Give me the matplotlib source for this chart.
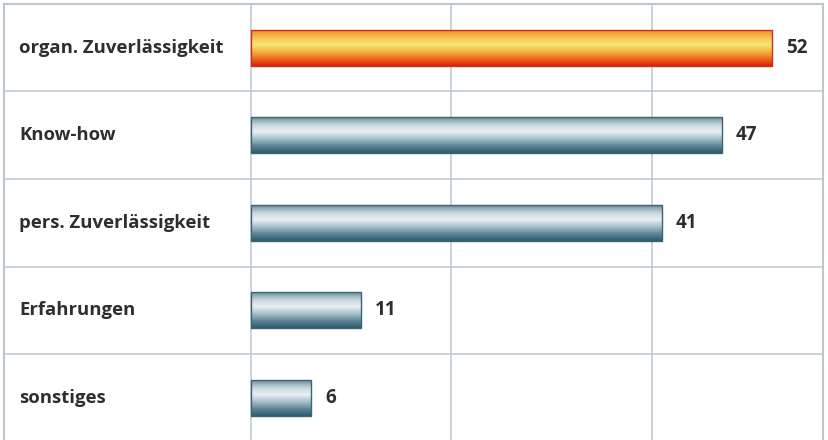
import numpy as np
import matplotlib
matplotlib.use('Agg')
import matplotlib.pyplot as plt
from matplotlib.colors import LinearSegmentedColormap

categories = ['organ. Zuverlässigkeit', 'Know-how', 'pers. Zuverlässigkeit',
              'Erfahrungen', 'sonstiges']
values = [52, 47, 41, 11, 6]
highlight = [True, False, False, False, False]
grid_ticks = [0, 20, 40]

plt.rcParams['font.family'] = ['Open Sans', 'DejaVu Sans']

# gradients from top to bottom of each bar
blue = LinearSegmentedColormap.from_list('blue', ['#6f8f9e', '#c5d5db', '#eaf1f3', '#a9c1cb', '#5f8798', '#2c5b6e'])
orange = LinearSegmentedColormap.from_list('orange', ['#ee8a2a', '#f7c350', '#f9e47a', '#f6b540', '#ee6a1c', '#dc1e10'])
grad = np.linspace(0, 1, 64).reshape(-1, 1)

fig = plt.figure(figsize=(8.29, 4.40), dpi=100)
ax = fig.add_axes([4 / 829, -1.5 / 440, 819 / 829, 437.5 / 440])

px = 10.02  # pixels per unit
ax.set_xlim(-(251 - 4) / px, (823 - 251) / px)
ax.set_ylim(len(categories) - 0.5, -0.5)

gridc = '#bcc7cd'
for t in grid_ticks:
    ax.axvline(t, color=gridc, lw=1.1, zorder=1)
for k in range(len(categories) - 1):
    ax.axhline(k + 0.5, color=gridc, lw=1.1, zorder=1)

h = 0.41
for i, (cat, v, hl) in enumerate(zip(categories, values, highlight)):
    cmap = orange if hl else blue
    ax.imshow(grad, cmap=cmap, aspect='auto', extent=(0, v, i + h / 2, i - h / 2),
              interpolation='bilinear', zorder=2)
    ax.barh(i, v, height=h, fill=False, edgecolor='#d0301a' if hl else '#3d6474',
            lw=1.0, zorder=3)
    ax.text(-(251 - 19) / px, i, cat, ha='left', va='center', fontsize=13.3,
            fontweight='bold', color='#2e2e2e')
    ax.text(v + 1.4, i, str(v), ha='left', va='center', fontsize=13.5,
            fontweight='bold', color='#2e2e2e')

ax.set_xticks([])
ax.set_yticks([])
for s in ['top', 'left', 'right']:
    ax.spines[s].set_color(gridc)
    ax.spines[s].set_linewidth(1.5)
ax.spines['bottom'].set_visible(False)

fig.savefig('out.png', dpi=100)
